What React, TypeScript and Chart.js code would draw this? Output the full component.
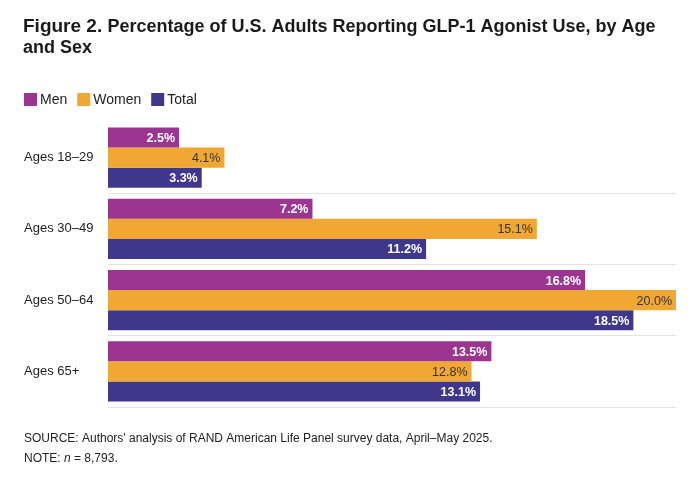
import React, { useEffect, useRef } from "react";
import { Chart, registerables } from "chart.js";
Chart.register(...registerables);

const categories = ["Ages 18–29", "Ages 30–49", "Ages 50–64", "Ages 65+"];
const men = [2.5, 7.2, 16.8, 13.5];
const women = [4.1, 15.1, 20.0, 12.8];
const total = [3.3, 11.2, 18.5, 13.1];
const seriesNames = ["Men", "Women", "Total"];
const colors = ["#9b358f", "#f0a733", "#3f378c"];
const labelColors = ["#ffffff", "#333333", "#ffffff"];
const FONT = "'Liberation Sans', Arial, sans-serif";

const deco = {
  id: "deco",
  afterDatasetsDraw(chart: any) {
    const ctx = chart.ctx;
    ctx.save();
    // title
    ctx.fillStyle = "#1a1a1a";
    ctx.textBaseline = "alphabetic";
    ctx.textAlign = "left";
    ctx.font = `bold 19px ${FONT}`;
    const fig = "Figure 2.";
    ctx.fillText(fig, 23, 32);
    const w = ctx.measureText(fig + " ").width;
    ctx.font = `bold 18px ${FONT}`;
    ctx.fillText("Percentage of U.S. Adults Reporting GLP-1 Agonist Use, by Age", 23 + w, 32);
    ctx.fillText("and Sex", 23, 53);
    // legend
    ctx.font = `14px ${FONT}`;
    ctx.textBaseline = "middle";
    let x = 24;
    seriesNames.forEach((n, i) => {
      ctx.fillStyle = colors[i];
      ctx.fillRect(x, 93, 13, 13);
      ctx.fillStyle = "#222";
      ctx.fillText(n, x + 16, 100);
      x += 16 + ctx.measureText(n).width + 10;
    });
    // category labels
    const ys = chart.scales.y;
    ctx.font = `13px ${FONT}`;
    ctx.fillStyle = "#222";
    categories.forEach((c, i) => ctx.fillText(c, 24, ys.getPixelForValue(i)));
    // value labels
    ctx.textAlign = "right";
    chart.data.datasets.forEach((ds: any, di: number) => {
      const meta = chart.getDatasetMeta(di);
      meta.data.forEach((bar: any, i: number) => {
        ctx.font = di === 1 ? `12.5px ${FONT}` : `bold 12.5px ${FONT}`;
        ctx.fillStyle = labelColors[di];
        ctx.fillText(ds.data[i].toFixed(1) + "%", bar.x - 4, bar.y + 1);
      });
    });
    // footer
    ctx.textAlign = "left";
    ctx.font = `12px ${FONT}`;
    ctx.fillStyle = "#222";
    ctx.fillText("SOURCE: Authors' analysis of RAND American Life Panel survey data, April–May 2025.", 24, 439);
    ctx.fillText("NOTE: ", 24, 459);
    const nw = ctx.measureText("NOTE: ").width;
    ctx.font = `italic 12px ${FONT}`;
    ctx.fillText("n", 24 + nw, 459);
    const iw = ctx.measureText("n").width;
    ctx.font = `12px ${FONT}`;
    ctx.fillText(" = 8,793.", 24 + nw + iw, 459);
    ctx.restore();
  },
};

export default function App() {
  const ref = useRef<HTMLCanvasElement>(null);
  useEffect(() => {
    document.body.style.margin = "0";
    const chart = new Chart(ref.current!, {
      type: "bar",
      data: {
        labels: categories,
        datasets: [men, women, total].map((d, i) => ({
          label: seriesNames[i],
          data: d,
          backgroundColor: colors[i],
          barPercentage: 1,
          categoryPercentage: 0.845,
        })),
      },
      options: {
        indexAxis: "y",
        animation: false,
        responsive: false,
        layout: { padding: { top: 122, bottom: 71, left: 0, right: 20 } },
        plugins: { legend: { display: false }, tooltip: { enabled: false } },
        scales: {
          x: { display: false, min: 0, max: 20 },
          y: {
            ticks: { display: false },
            border: { display: false },
            grid: {
              offset: true,
              drawTicks: false,
              color: (c: any) => (c.index === 0 || c.index === 4 ? "rgba(0,0,0,0)" : "#e3e3e3"),
            },
            afterFit: (s: any) => { s.width = 108; },
          },
        },
      },
      plugins: [deco],
    } as any);
    return () => chart.destroy();
  }, []);
  return <canvas ref={ref} width={696} height={478} style={{ display: "block" }} />;
}
